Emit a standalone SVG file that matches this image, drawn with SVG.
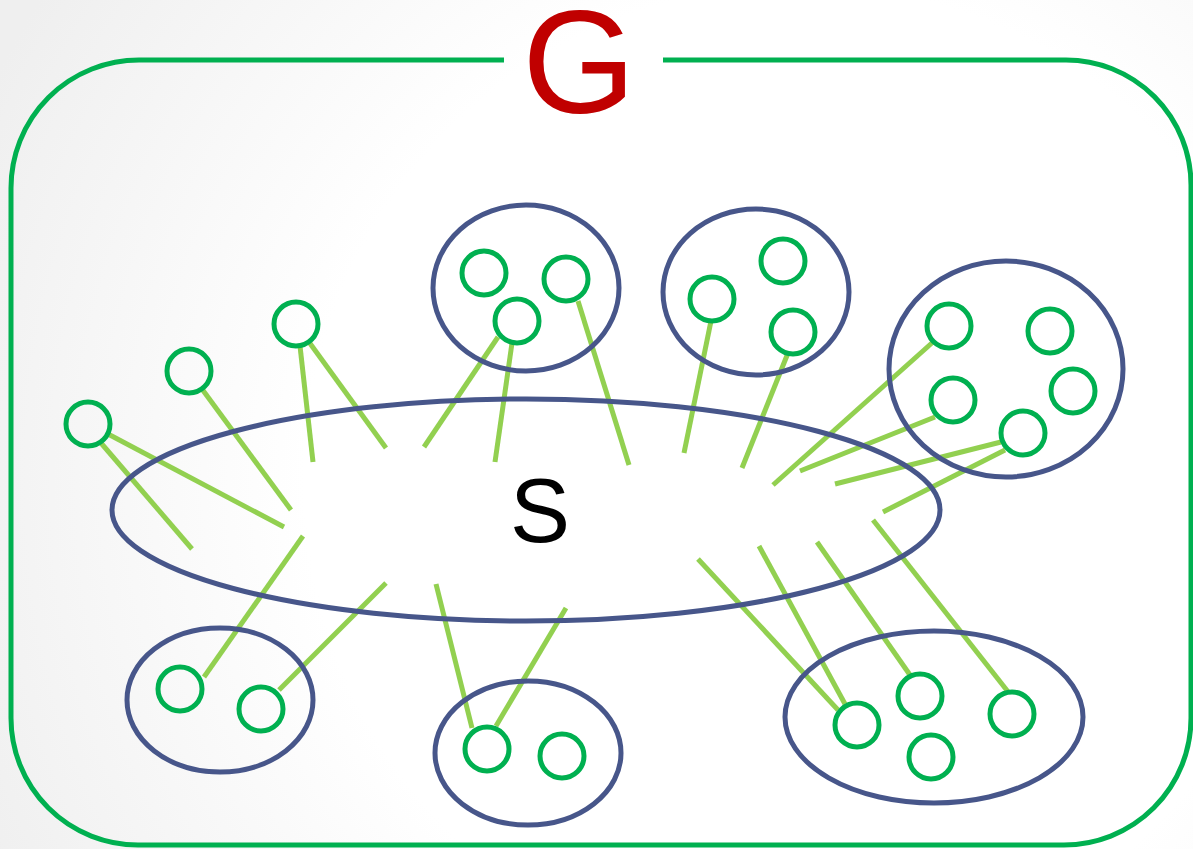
<svg xmlns="http://www.w3.org/2000/svg" width="1193" height="849" viewBox="0 0 1193 849">
  <defs>
    <radialGradient id="bg" cx="800" cy="480" r="900" gradientUnits="userSpaceOnUse">
      <stop offset="0.55" stop-color="#ffffff"/>
      <stop offset="1" stop-color="#efefef"/>
    </radialGradient>
    <style>
      .frame { fill: none; stroke: #00b050; stroke-width: 5; }
      .set { fill: none; stroke: #47568a; stroke-width: 5; }
      .vertex { fill: none; stroke: #00b050; stroke-width: 5; }
      .edge { stroke: #92d050; stroke-width: 5; stroke-linecap: butt; }
      .label { font-family: "Liberation Sans", Arial, sans-serif; }
    </style>
  </defs>

  <rect x="0" y="0" width="1193" height="849" fill="url(#bg)"/>

  <!-- outer graph boundary with a gap for the title -->
  <g id="graph-G">
    <path class="frame" d="M663,60 H1066 A125,125 0 0 1 1191,185 V718 A127,127 0 0 1 1064,845 H138 A127,127 0 0 1 11,718 V188 A128,128 0 0 1 139,60 H504"/>
    <text class="label" x="579" y="113" font-size="146" fill="#c00000" text-anchor="middle">G</text>
  </g>

  <!-- edges -->
  <g id="edges">
    <line class="edge" x1="108" y1="434" x2="284" y2="527"/>
    <line class="edge" x1="101" y1="443" x2="192" y2="549"/>
    <line class="edge" x1="202" y1="389" x2="291" y2="510"/>
    <line class="edge" x1="300" y1="346" x2="313" y2="462"/>
    <line class="edge" x1="309" y1="342" x2="386" y2="448"/>
    <line class="edge" x1="498" y1="337" x2="424" y2="447"/>
    <line class="edge" x1="512" y1="343" x2="495" y2="462"/>
    <line class="edge" x1="578" y1="301" x2="629" y2="465"/>
    <line class="edge" x1="711" y1="321" x2="684" y2="453"/>
    <line class="edge" x1="788" y1="353" x2="742" y2="468"/>
    <line class="edge" x1="933" y1="342" x2="773" y2="485"/>
    <line class="edge" x1="935" y1="417" x2="800" y2="471"/>
    <line class="edge" x1="1001" y1="442" x2="835" y2="484"/>
    <line class="edge" x1="1005" y1="450" x2="883" y2="512"/>
    <line class="edge" x1="873" y1="520" x2="1009" y2="693"/>
    <line class="edge" x1="698" y1="559" x2="838" y2="710"/>
    <line class="edge" x1="759" y1="546" x2="845" y2="704"/>
    <line class="edge" x1="817" y1="542" x2="910" y2="675"/>
    <line class="edge" x1="204" y1="677" x2="303" y2="536"/>
    <line class="edge" x1="279" y1="690" x2="386" y2="583"/>
    <line class="edge" x1="472" y1="728" x2="436" y2="584"/>
    <line class="edge" x1="496" y1="726" x2="566" y2="608"/>
  </g>

  <!-- separator set S -->
  <g id="set-S">
    <ellipse class="set" cx="526" cy="510" rx="414" ry="111"/>
    <text class="label" x="540" y="542" font-size="90" fill="#000000" text-anchor="middle">S</text>
  </g>

  <!-- components -->
  <g id="component-top-1">
    <ellipse class="set" cx="526" cy="288" rx="93" ry="83"/>
  </g>
  <g id="component-top-2">
    <ellipse class="set" cx="756" cy="292" rx="93" ry="83"/>
  </g>
  <g id="component-right">
    <ellipse class="set" cx="1006" cy="369" rx="117" ry="108"/>
  </g>
  <g id="component-bottom-left">
    <ellipse class="set" cx="220" cy="700" rx="93" ry="72"/>
  </g>
  <g id="component-bottom-middle">
    <ellipse class="set" cx="528" cy="753" rx="93" ry="72"/>
  </g>
  <g id="component-bottom-right">
    <ellipse class="set" cx="934" cy="717" rx="149" ry="86"/>
  </g>

  <!-- vertices -->
  <g id="vertices">
    <circle class="vertex" cx="88" cy="424" r="22"/>
    <circle class="vertex" cx="189" cy="371" r="22"/>
    <circle class="vertex" cx="296" cy="324" r="22"/>
    <circle class="vertex" cx="484" cy="273" r="22"/>
    <circle class="vertex" cx="566" cy="279" r="22"/>
    <circle class="vertex" cx="517" cy="321" r="22"/>
    <circle class="vertex" cx="712" cy="299" r="22"/>
    <circle class="vertex" cx="783" cy="261" r="22"/>
    <circle class="vertex" cx="793" cy="332" r="22"/>
    <circle class="vertex" cx="949" cy="326" r="22"/>
    <circle class="vertex" cx="1050" cy="331" r="22"/>
    <circle class="vertex" cx="1073" cy="391" r="22"/>
    <circle class="vertex" cx="953" cy="400" r="22"/>
    <circle class="vertex" cx="1023" cy="433" r="22"/>
    <circle class="vertex" cx="180" cy="689" r="22"/>
    <circle class="vertex" cx="261" cy="709" r="22"/>
    <circle class="vertex" cx="487" cy="749" r="22"/>
    <circle class="vertex" cx="562" cy="756" r="22"/>
    <circle class="vertex" cx="857" cy="725" r="22"/>
    <circle class="vertex" cx="920" cy="696" r="22"/>
    <circle class="vertex" cx="931" cy="757" r="22"/>
    <circle class="vertex" cx="1012" cy="714" r="22"/>
  </g>
</svg>
